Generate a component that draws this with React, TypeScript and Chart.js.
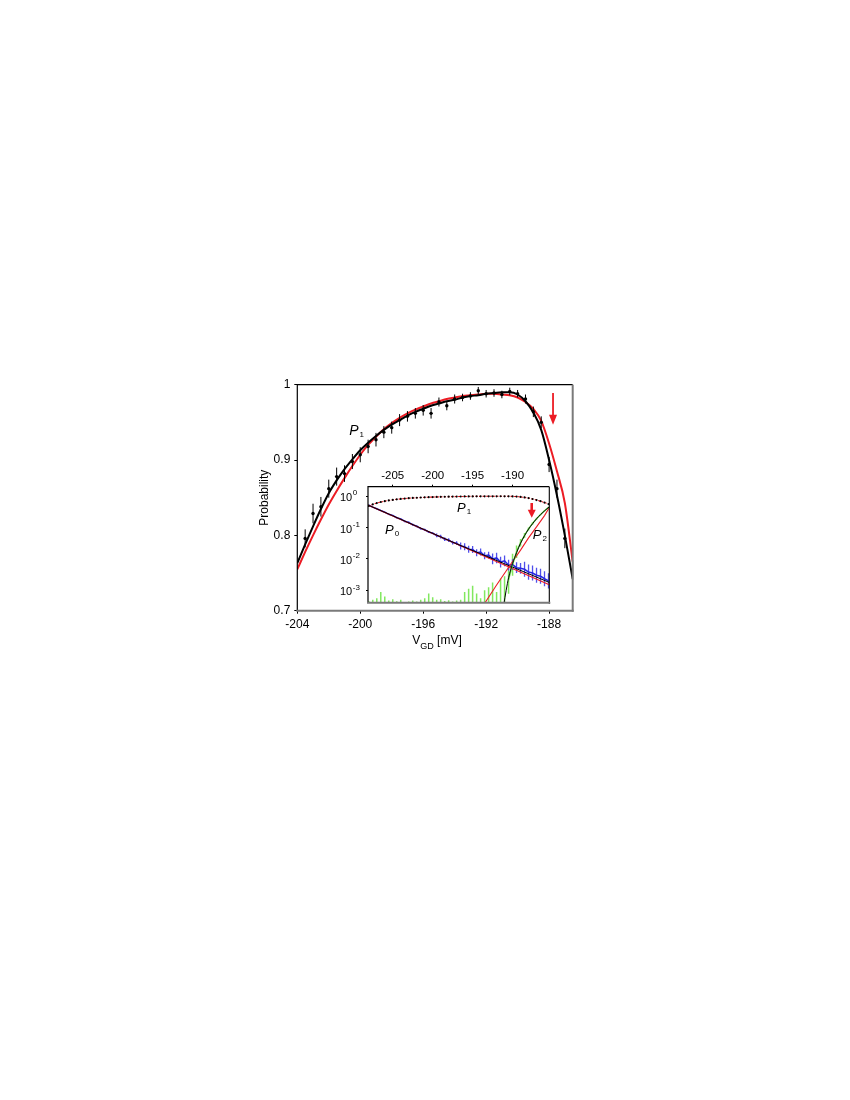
import React, { useEffect, useRef } from "react";
import { Chart, registerables } from "chart.js";
Chart.register(...registerables);

const FONT = "'Liberation Sans', Arial, Helvetica, sans-serif";

// ---------------- main panel data ----------------
const mainXTicks = [-204, -200, -196, -192, -188];
const mainYTicks = [0.7, 0.8, 0.9, 1];
const mainYTickLabels = ["0.7", "0.8", "0.9", "1"];

const fitX = [-204, -203.5, -203, -202.5, -202, -201.5, -201, -200.5, -200, -199.5, -199, -198.5, -198, -197.5, -197, -196.5, -196, -195.5, -195, -194.5, -194, -193.5, -193, -192.5, -192, -191.5, -191, -190.5, -190, -189.5, -189, -188.5, -188, -187.5, -187, -186.5];
const blackFit = [0.763, 0.788, 0.812, 0.835, 0.856, 0.873, 0.888, 0.901, 0.913, 0.923, 0.932, 0.94, 0.947, 0.953, 0.959, 0.964, 0.968, 0.972, 0.975, 0.978, 0.98, 0.983, 0.985, 0.986, 0.988, 0.989, 0.99, 0.99, 0.987, 0.978, 0.963, 0.94, 0.9, 0.853, 0.8, 0.742];
const redFit = [0.755, 0.778, 0.8, 0.821, 0.841, 0.859, 0.876, 0.892, 0.907, 0.92, 0.931, 0.941, 0.949, 0.956, 0.962, 0.967, 0.971, 0.975, 0.978, 0.981, 0.983, 0.985, 0.986, 0.987, 0.988, 0.988, 0.987, 0.986, 0.983, 0.977, 0.968, 0.952, 0.922, 0.885, 0.843, 0.765];

const dataX = [-203.5, -203, -202.5, -202, -201.5, -201, -200.5, -200, -199.5, -199, -198.5, -198, -197.5, -197, -196.5, -196, -195.5, -195, -194.5, -194, -193.5, -193, -192.5, -192, -191.5, -191, -190.5, -190, -189.5, -189, -188.5, -188, -187.5, -187, -186.5];
const dataY = [0.796, 0.829, 0.838, 0.862, 0.878, 0.882, 0.898, 0.907, 0.918, 0.927, 0.937, 0.943, 0.953, 0.958, 0.962, 0.966, 0.962, 0.977, 0.972, 0.981, 0.983, 0.985, 0.992, 0.988, 0.989, 0.987, 0.991, 0.988, 0.981, 0.964, 0.95, 0.894, 0.862, 0.796, 0.754];
const dataErr = [0.012, 0.013, 0.013, 0.012, 0.012, 0.011, 0.01, 0.01, 0.009, 0.009, 0.008, 0.008, 0.008, 0.007, 0.007, 0.007, 0.007, 0.006, 0.006, 0.006, 0.005, 0.005, 0.005, 0.005, 0.005, 0.005, 0.005, 0.005, 0.006, 0.007, 0.008, 0.01, 0.012, 0.013, 0.013];

const mainArrowX = -187.75;
const mainArrowFrom = 0.989;
const mainArrowTo = 0.947;
const mainLabelX = -200.7;
const mainLabelY = 0.933;

// ---------------- inset data ----------------
const inXTicks = [-205, -200, -195, -190];
const inYTicks = [1, 0.1, 0.01, 0.001];
const inYExp = ["0", "-1", "-2", "-3"];

const inX = [-208, -207.5, -207, -206.5, -206, -205.5, -205, -204.5, -204, -203.5, -203, -202.5, -202, -201.5, -201, -200.5, -200, -199.5, -199, -198.5, -198, -197.5, -197, -196.5, -196, -195.5, -195, -194.5, -194, -193.5, -193, -192.5, -192, -191.5, -191, -190.5, -190, -189.5, -189, -188.5, -188, -187.5, -187, -186.5, -186, -185.5];

const p0Data = [0.513, 0.447, 0.398, 0.347, 0.309, 0.263, 0.24, 0.204, 0.186, 0.158, 0.145, 0.123, 0.11, 0.0933, 0.0851, 0.0724, 0.0661, 0.0562, 0.0513, 0.0427, 0.0398, 0.0331, 0.0316, 0.0257, 0.0245, 0.0204, 0.02, 0.0158, 0.0166, 0.0126, 0.0132, 0.01, 0.0107, 0.00794, 0.00871, 0.00631, 0.00661, 0.00525, 0.00501, 0.00468, 0.0038, 0.00355, 0.00302, 0.00282, 0.00234, 0.002];
const p0ErrDec = [0.015, 0.015, 0.015, 0.015, 0.015, 0.015, 0.015, 0.015, 0.015, 0.03, 0.03, 0.03, 0.03, 0.03, 0.03, 0.03, 0.03, 0.06, 0.06, 0.06, 0.06, 0.06, 0.06, 0.11, 0.11, 0.11, 0.11, 0.11, 0.11, 0.11, 0.11, 0.17, 0.17, 0.17, 0.17, 0.17, 0.17, 0.17, 0.17, 0.24, 0.24, 0.24, 0.24, 0.24, 0.24, 0.24];

const p1Data = [0.49, 0.55, 0.6, 0.65, 0.69, 0.73, 0.76, 0.79, 0.815, 0.84, 0.86, 0.875, 0.89, 0.905, 0.915, 0.926, 0.935, 0.943, 0.95, 0.956, 0.961, 0.966, 0.97, 0.974, 0.977, 0.98, 0.982, 0.984, 0.986, 0.987, 0.989, 0.99, 0.99, 0.991, 0.99, 0.987, 0.98, 0.968, 0.946, 0.913, 0.868, 0.812, 0.75, 0.69, 0.625, 0.56];

const p2NoiseX = inX.slice(0, 35);
const p2NoiseTop = [4.5e-4, 5.0e-4, 5.6e-4, 8.9e-4, 6.3e-4, 4.7e-4, 5.2e-4, 4.5e-4, 5.0e-4, 4.2e-4, 4.4e-4, 4.7e-4, 4.4e-4, 5.0e-4, 5.6e-4, 7.9e-4, 6.0e-4, 5.0e-4, 5.2e-4, 4.6e-4, 4.8e-4, 4.4e-4, 4.7e-4, 5.0e-4, 8.9e-4, 1.12e-3, 1.41e-3, 7.9e-4, 5.6e-4, 1.0e-3, 1.26e-3, 1.78e-3, 8.9e-4, 2.4e-3, 2.8e-3];
const p2X = inX.slice(35);
const p2Data = [2.2e-3, 6.5e-3, 0.017, 0.033, 0.056, 0.09, 0.135, 0.19, 0.26, 0.34, 0.44];
const p2ErrDec = [0.45, 0.35, 0.2, 0.12, 0.08, 0.05, 0.04, 0.03, 0.02, 0.02, 0.02];

const inP1FitX = [-208.1, -207, -206, -205, -204, -203, -202, -201, -200, -198, -196, -194, -192, -191, -190, -189, -188, -187, -186, -185.4];
const inP1Fit = [0.48, 0.6, 0.69, 0.76, 0.815, 0.86, 0.89, 0.915, 0.935, 0.961, 0.977, 0.986, 0.99, 0.99, 0.98, 0.946, 0.868, 0.75, 0.625, 0.55];
const inP0BlackX = [-208.1, -205, -202, -199, -197, -194, -191, -188, -185.4];
const inP0Black = [0.52, 0.237, 0.109, 0.0504, 0.0302, 0.0146, 0.007, 0.00337, 0.00178];
const inP0RedX = [-208.1, -197, -185.4];
const inP0Red = [0.52, 0.0301, 0.00151];
const inP2BlackX = [-191.1, -190.8, -190.5, -190, -189.5, -189, -188.5, -188, -187.5, -187, -186.5, -186, -185.4];
const inP2Black = [3.5e-4, 1.0e-3, 2.5e-3, 7.1e-3, 0.0158, 0.0316, 0.055, 0.089, 0.132, 0.19, 0.257, 0.339, 0.457];
const inP2RedX = [-193.6, -192, -190, -189, -188, -187, -186, -185.4];
const inP2Red = [3.5e-4, 1.48e-3, 8.3e-3, 0.019, 0.0468, 0.105, 0.24, 0.436];

const inArrowX = -187.6;
const inArrowFrom = 0.605;
const inArrowTo = 0.206;
const inLabels = [
  { x: -205.96, y: 0.061, sub: "0" },
  { x: -196.96, y: 0.324, sub: "1" },
  { x: -187.46, y: 0.0427, sub: "2" },
];

// ---------------- helpers ----------------
const RED = "#ec1c24";
const pts = (xs: number[], ys: number[]) => xs.map((x, i) => ({ x, y: ys[i] }));

function vline(ctx: CanvasRenderingContext2D, x: number, y1: number, y2: number) {
  ctx.beginPath();
  ctx.moveTo(x, y1);
  ctx.lineTo(x, y2);
  ctx.stroke();
}

function drawArrow(ctx: CanvasRenderingContext2D, x: number, yTop: number, yTip: number, shaftW: number, headW: number, headL: number) {
  ctx.save();
  ctx.strokeStyle = RED;
  ctx.fillStyle = RED;
  ctx.lineWidth = shaftW;
  ctx.beginPath();
  ctx.moveTo(x, yTop);
  ctx.lineTo(x, yTip - headL + 1);
  ctx.stroke();
  ctx.beginPath();
  ctx.moveTo(x - headW / 2, yTip - headL);
  ctx.lineTo(x + headW / 2, yTip - headL);
  ctx.lineTo(x, yTip);
  ctx.closePath();
  ctx.fill();
  ctx.restore();
}

function subLabel(ctx: CanvasRenderingContext2D, x: number, y: number, main: string, sub: string, size: number, subSize: number, drop: number) {
  ctx.save();
  ctx.fillStyle = "#000";
  ctx.textAlign = "left";
  ctx.textBaseline = "alphabetic";
  ctx.font = `italic ${size}px ${FONT}`;
  ctx.fillText(main, x, y);
  const w = ctx.measureText(main).width;
  ctx.font = `${subSize}px ${FONT}`;
  ctx.fillText(sub, x + w + 1, y + drop);
  ctx.restore();
}

function frame(ctx: CanvasRenderingContext2D, a: any, bottomW: number, rightGrey: boolean) {
  ctx.save();
  ctx.strokeStyle = "#000";
  ctx.lineWidth = 1.2;
  ctx.beginPath();
  ctx.moveTo(a.left, a.bottom);
  ctx.lineTo(a.left, a.top);
  ctx.lineTo(a.right, a.top);
  ctx.stroke();
  ctx.strokeStyle = rightGrey ? "#7a7a7a" : "#000";
  ctx.lineWidth = rightGrey ? 2 : 1.1;
  vline(ctx, a.right, a.top, a.bottom + 1);
  ctx.strokeStyle = "#7a7a7a";
  ctx.lineWidth = bottomW;
  ctx.beginPath();
  ctx.moveTo(a.left - 1, a.bottom);
  ctx.lineTo(a.right + 1, a.bottom);
  ctx.stroke();
  ctx.restore();
}

const mainPlugin = {
  id: "mainDecor",
  afterDatasetsDraw(chart: any) {
    const { ctx, chartArea: a, scales } = chart;
    const sx = scales.x;
    const sy = scales.y;
    ctx.save();
    ctx.beginPath();
    ctx.rect(a.left, a.top - 3, a.right - a.left + 2, a.bottom - a.top + 3);
    ctx.clip();
    ctx.strokeStyle = "#000";
    ctx.lineWidth = 1;
    dataX.forEach((x, i) => {
      const px = sx.getPixelForValue(x);
      vline(ctx, px, sy.getPixelForValue(dataY[i] - dataErr[i]), sy.getPixelForValue(dataY[i] + dataErr[i]));
    });
    ctx.restore();

    frame(ctx, a, 2, true);

    drawArrow(ctx, sx.getPixelForValue(mainArrowX), sy.getPixelForValue(mainArrowFrom), sy.getPixelForValue(mainArrowTo), 1.8, 8, 10);
    subLabel(ctx, sx.getPixelForValue(mainLabelX), sy.getPixelForValue(mainLabelY), "P", "1", 14, 8, 2);

    // axis titles
    ctx.save();
    ctx.fillStyle = "#000";
    ctx.textBaseline = "alphabetic";
    ctx.font = `12px ${FONT}`;
    const wV = ctx.measureText("V").width;
    const wB = ctx.measureText(" [mV]").width;
    ctx.font = `9px ${FONT}`;
    const wGD = ctx.measureText("GD").width;
    const total = wV + wGD + wB;
    const cx = (a.left + a.right) / 2 + 2;
    let x0 = cx - total / 2;
    const yb = a.bottom + 33;
    ctx.font = `12px ${FONT}`;
    ctx.fillText("V", x0, yb);
    ctx.font = `9px ${FONT}`;
    ctx.fillText("GD", x0 + wV, yb + 5);
    ctx.font = `12px ${FONT}`;
    ctx.fillText(" [mV]", x0 + wV + wGD, yb);

    ctx.translate(a.left - 33, (a.top + a.bottom) / 2);
    ctx.rotate(-Math.PI / 2);
    ctx.textAlign = "center";
    ctx.textBaseline = "middle";
    ctx.fillText("Probability", 0, 0);
    ctx.restore();
  },
};

const insetPlugin = {
  id: "insetDecor",
  beforeDatasetsDraw(chart: any) {
    const { ctx, chartArea: a, scales } = chart;
    const sx = scales.x;
    const sy = scales.y;
    ctx.save();
    ctx.fillStyle = "#fff";
    ctx.fillRect(a.left, a.top, a.right - a.left, a.bottom - a.top);
    ctx.beginPath();
    ctx.rect(a.left, a.top, a.right - a.left, a.bottom - a.top);
    ctx.clip();
    // green noise bars
    ctx.strokeStyle = "rgb(130,232,95)";
    ctx.lineWidth = 1.5;
    p2NoiseX.forEach((x, i) => {
      vline(ctx, sx.getPixelForValue(x), a.bottom, sy.getPixelForValue(p2NoiseTop[i]));
    });
    p2X.forEach((x, i) => {
      const f = Math.pow(10, p2ErrDec[i]);
      vline(ctx, sx.getPixelForValue(x), sy.getPixelForValue(p2Data[i] / f), sy.getPixelForValue(p2Data[i] * f));
    });
    // blue error bars
    ctx.strokeStyle = "rgb(80,80,235)";
    ctx.lineWidth = 1.3;
    inX.forEach((x, i) => {
      const f = Math.pow(10, p0ErrDec[i]);
      vline(ctx, sx.getPixelForValue(x), sy.getPixelForValue(p0Data[i] / f), sy.getPixelForValue(p0Data[i] * f));
    });
    ctx.restore();
  },
  afterDatasetsDraw(chart: any) {
    const { ctx, chartArea: a, scales } = chart;
    const sx = scales.x;
    const sy = scales.y;
    frame(ctx, a, 2, false);
    drawArrow(ctx, sx.getPixelForValue(inArrowX), sy.getPixelForValue(inArrowFrom), sy.getPixelForValue(inArrowTo), 2.6, 8, 8);
    inLabels.forEach((l) => {
      subLabel(ctx, sx.getPixelForValue(l.x), sy.getPixelForValue(l.y), "P", l.sub, 13, 8, 2);
    });
    // y tick labels with superscripts
    ctx.save();
    ctx.fillStyle = "#000";
    ctx.textAlign = "left";
    ctx.textBaseline = "middle";
    inYTicks.forEach((v, i) => {
      const py = sy.getPixelForValue(v);
      const x0 = a.left - 28;
      ctx.font = `11px ${FONT}`;
      ctx.fillText("10", x0, py + 2);
      const w = ctx.measureText("10").width;
      ctx.font = `8px ${FONT}`;
      ctx.fillText(inYExp[i], x0 + w + 0.5, py - 3);
    });
    ctx.restore();
  },
};

export default function App() {
  const mainRef = useRef<HTMLCanvasElement>(null);
  const insetRef = useRef<HTMLCanvasElement>(null);

  useEffect(() => {
    const main = new Chart(mainRef.current as HTMLCanvasElement, {
      type: "line",
      data: {
        datasets: [
          {
            label: "data",
            data: pts(dataX, dataY),
            showLine: false,
            pointRadius: 1.7,
            pointBackgroundColor: "#000",
            pointBorderWidth: 0,
          },
          {
            label: "black fit",
            data: pts(fitX, blackFit),
            borderColor: "#000",
            borderWidth: 2,
            pointRadius: 0,
            cubicInterpolationMode: "monotone",
          },
          {
            label: "red fit",
            data: pts(fitX, redFit),
            borderColor: RED,
            borderWidth: 2,
            pointRadius: 0,
            cubicInterpolationMode: "monotone",
          },
        ],
      } as any,
      options: {
        responsive: false,
        animation: false,
        layout: { padding: { left: 229.3, top: 376.7, right: 269.3, bottom: 52.3 } },
        plugins: { legend: { display: false }, tooltip: { enabled: false } },
        scales: {
          x: {
            type: "linear",
            min: -204,
            max: -186.5,
            afterBuildTicks: (s: any) => {
              s.ticks = mainXTicks.map((v) => ({ value: v }));
            },
            afterFit: (s: any) => {
              s.height = 45;
            },
            border: { display: false },
            grid: { drawOnChartArea: false, drawTicks: true, tickLength: 3, color: "#000", lineWidth: 1 },
            ticks: {
              font: { family: FONT, size: 12 },
              color: "#000",
              padding: 4,
              maxRotation: 0,
              autoSkip: false,
              callback: (v: any) => String(v),
            },
          },
          y: {
            type: "linear",
            min: 0.7,
            max: 1,
            afterBuildTicks: (s: any) => {
              s.ticks = mainYTicks.map((v) => ({ value: v }));
            },
            afterFit: (s: any) => {
              s.width = 60;
            },
            border: { display: false },
            grid: { drawOnChartArea: false, drawTicks: true, tickLength: 3, color: "#000", lineWidth: 1 },
            ticks: {
              font: { family: FONT, size: 12 },
              color: "#000",
              padding: 4,
              autoSkip: false,
              callback: (_v: any, i: number) => mainYTickLabels[i],
            },
          },
        },
      } as any,
      plugins: [mainPlugin],
    });

    const inset = new Chart(insetRef.current as HTMLCanvasElement, {
      type: "line",
      data: {
        datasets: [
          {
            label: "P1 data",
            data: pts(inX, p1Data),
            showLine: false,
            pointRadius: 1.1,
            pointBackgroundColor: "#000",
            pointBorderWidth: 0,
          },
          {
            label: "P1 fit",
            data: pts(inP1FitX, inP1Fit),
            borderColor: RED,
            borderWidth: 1.1,
            borderDash: [2, 1.5],
            pointRadius: 0,
            cubicInterpolationMode: "monotone",
          },
          {
            label: "P2 black fit",
            data: pts(inP2BlackX, inP2Black),
            borderColor: "#000",
            borderWidth: 1,
            pointRadius: 0,
            cubicInterpolationMode: "monotone",
          },
          {
            label: "P2 data",
            data: pts(p2X, p2Data),
            borderColor: "rgb(110,225,80)",
            borderWidth: 1.4,
            pointRadius: 0,
          },
          {
            label: "P2 red fit",
            data: pts(inP2RedX, inP2Red),
            borderColor: RED,
            borderWidth: 1.1,
            pointRadius: 0,
          },
          {
            label: "P0 black fit",
            data: pts(inP0BlackX, inP0Black),
            borderColor: "#000",
            borderWidth: 1,
            pointRadius: 0,
          },
          {
            label: "P0 red fit",
            data: pts(inP0RedX, inP0Red),
            borderColor: RED,
            borderWidth: 1.1,
            pointRadius: 0,
          },
          {
            label: "P0 data",
            data: pts(inX, p0Data),
            borderColor: "rgb(40,40,225)",
            borderWidth: 1.6,
            pointRadius: 0,
          },
        ],
      } as any,
      options: {
        responsive: false,
        animation: false,
        layout: { padding: { left: 18, top: 11.7, right: 10.7, bottom: 5 } },
        plugins: { legend: { display: false }, tooltip: { enabled: false } },
        scales: {
          x: {
            type: "linear",
            position: "top",
            min: -208.1,
            max: -185.4,
            afterBuildTicks: (s: any) => {
              s.ticks = inXTicks.map((v) => ({ value: v }));
            },
            afterFit: (s: any) => {
              s.height = 20;
            },
            border: { display: false },
            grid: { drawOnChartArea: false, drawTicks: true, tickLength: 2, color: "#000", lineWidth: 1 },
            ticks: {
              font: { family: FONT, size: 11.5 },
              color: "#000",
              padding: 2,
              maxRotation: 0,
              autoSkip: false,
              callback: (v: any) => String(v),
            },
          },
          y: {
            type: "logarithmic",
            min: 4e-4,
            max: 2,
            afterBuildTicks: (s: any) => {
              s.ticks = inYTicks.map((v) => ({ value: v }));
            },
            afterFit: (s: any) => {
              s.width = 30;
            },
            border: { display: false },
            grid: { drawOnChartArea: false, drawTicks: true, tickLength: 2, color: "#000", lineWidth: 1 },
            ticks: { callback: () => "", autoSkip: false, padding: 0 },
          },
        },
      } as any,
      plugins: [insetPlugin],
    });

    return () => {
      main.destroy();
      inset.destroy();
    };
  }, []);

  return (
    <div style={{ position: "relative", width: 834, height: 700 }}>
      <canvas
        ref={mainRef}
        width={834}
        height={700}
        style={{ position: "absolute", left: 0, top: 0, width: 834, height: 700 }}
      />
      <canvas
        ref={insetRef}
        width={240}
        height={155}
        style={{ position: "absolute", left: 312, top: 447, width: 240, height: 155 }}
      />
    </div>
  );
}
